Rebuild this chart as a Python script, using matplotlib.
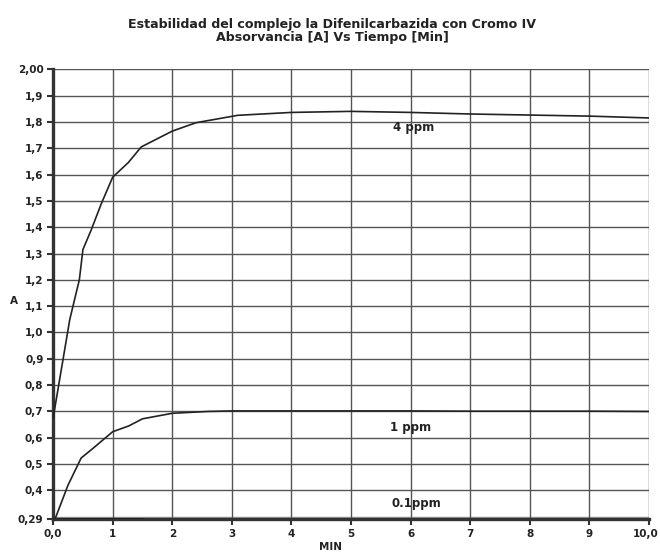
import matplotlib
matplotlib.use("Agg")
import matplotlib.pyplot as plt
from matplotlib.transforms import ScaledTranslation

t_4 = [0.0, 0.28, 0.44, 0.5, 0.64, 0.81, 1.0, 1.26, 1.48, 2.0, 2.4, 3.1, 4.0, 5.0, 6.0, 7.0, 8.0, 9.0, 10.0]
a_4 = [0.675, 1.05, 1.20, 1.315, 1.39, 1.49, 1.59, 1.645, 1.705, 1.765, 1.797, 1.825, 1.836, 1.84, 1.836, 1.83, 1.826, 1.822, 1.815]
t_1 = [0.03, 0.25, 0.47, 0.67, 1.0, 1.27, 1.5, 2.0, 2.6, 3.0, 4.0, 5.0, 6.0, 7.0, 8.0, 9.0, 10.0]
a_1 = [0.29, 0.42, 0.523, 0.56, 0.623, 0.645, 0.672, 0.693, 0.70, 0.702, 0.702, 0.702, 0.702, 0.701, 0.701, 0.701, 0.70]
t_01 = [0.0, 0.5, 1.0, 1.5]
a_01 = [0.292, 0.292, 0.292, 0.292]

x_ticks = [0, 1, 2, 3, 4, 5, 6, 7, 8, 9, 10]
x_labels = ["0,0", "1", "2", "3", "4", "5", "6", "7", "8", "9", "10,0"]
y_ticks = [0.29, 0.4, 0.5, 0.6, 0.7, 0.8, 0.9, 1.0, 1.1, 1.2, 1.3, 1.4, 1.5, 1.6, 1.7, 1.8, 1.9, 2.0]
y_labels = ["0,29", "0,4", "0,5", "0,6", "0,7", "0,8", "0,9", "1,0", "1,1", "1,2", "1,3", "1,4",
            "1,5", "1,6", "1,7", "1,8", "1,9", "2,00"]
grid_y = [0.4, 0.5, 0.6, 0.7, 0.8, 0.9, 1.0, 1.1, 1.2, 1.3, 1.4, 1.5, 1.6, 1.7, 1.8, 1.9, 2.0]
title = "Estabilidad del complejo la Difenilcarbazida con Cromo IV\nAbsorvancia [A] Vs Tiempo [Min]"
labels = [("4 ppm", 6.05, 1.78), ("1 ppm", 6.0, 0.64), ("0.1ppm", 6.1, 0.352)]

plt.rcParams['font.family'] = ['DejaVu Sans']
fig = plt.figure(figsize=(6.6, 5.54), dpi=100)
ax = fig.add_axes([0.0805, 0.0625, 0.9025, 0.8125])

for gy in grid_y:
    ax.axhline(gy, color='#555555', lw=1.0, zorder=1)
ax.axhline(0.3, color='#999999', lw=1.0, zorder=1)
for gx in x_ticks[1:]:
    ax.axvline(gx, color='#555555', lw=1.0, zorder=1)

ax.plot(t_4, a_4, color='#222222', lw=1.2, zorder=3)
ax.plot(t_1, a_1, color='#222222', lw=1.2, zorder=3)
ax.plot(t_01, a_01, color='#222222', lw=2.0, zorder=3)

for txt, x, y in labels:
    ax.text(x, y, txt, fontsize=8.5, fontweight='bold', ha='center', va='center', color='#222222')

ax.set_xlim(0, 10)
ax.set_ylim(0.29, 2.0)
ax.set_xticks(x_ticks)
ax.set_xticklabels(x_labels, fontsize=7.5, fontweight='bold', color='#222222')
ax.set_yticks(y_ticks)
ax.set_yticklabels(y_labels, fontsize=7.5, fontweight='bold', color='#222222')
ax.tick_params(axis='both', length=4, width=1.5, color='#333333', direction='out', pad=3)
last = ax.get_xticklabels()[-1]
last.set_transform(last.get_transform() + ScaledTranslation(-3 / 100, 0, fig.dpi_scale_trans))
for s in ['top', 'right']:
    ax.spines[s].set_visible(False)
for s in ['left', 'bottom']:
    ax.spines[s].set_linewidth(2.4)
    ax.spines[s].set_color('#333333')

fig.text(0.5, 1 - 547 / 554, "MIN", fontsize=7.5, fontweight='bold', ha='center', va='center', color='#222222')
fig.text(14 / 660, 1 - 301 / 554, "A", fontsize=7.5, fontweight='bold', ha='center', va='center', color='#222222')
fig.text(0.503, 1 - 31 / 554, title, fontsize=9.1, fontweight='bold', ha='center', va='center',
         linespacing=1.05, color='#222222')

fig.savefig("out.png", dpi=100)
